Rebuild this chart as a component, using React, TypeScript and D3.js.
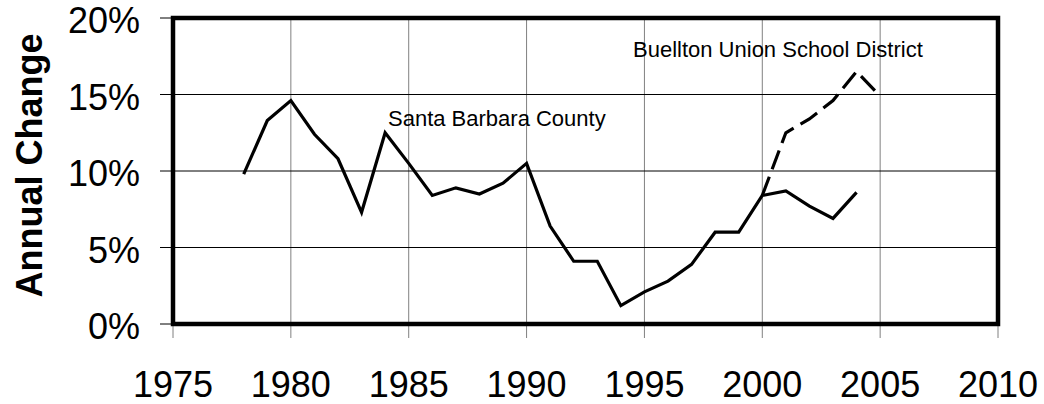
import { useEffect, useRef } from "react"
import * as d3 from "d3"

// Santa Barbara County annual change (%), 1978-2004
const sbYears = [
  1978, 1979, 1980, 1981, 1982, 1983, 1984, 1985, 1986, 1987, 1988, 1989, 1990, 1991, 1992, 1993, 1994,
  1995, 1996, 1997, 1998, 1999, 2000, 2001, 2002, 2003, 2004,
]
const sbValues = [
  9.8, 13.3, 14.6, 12.4, 10.8, 7.3, 12.5, 10.5, 8.4, 8.9, 8.5, 9.2, 10.5, 6.4, 4.1, 4.1, 1.2, 2.1, 2.8, 3.9,
  6.0, 6.0, 8.4, 8.7, 7.7, 6.9, 8.6,
]

// Buellton Union School District annual change (%), 2000-2005
const buYears = [2000, 2001, 2002, 2003, 2004, 2005]
const buValues = [8.4, 12.5, 13.4, 14.6, 16.5, 14.9]

const xTicks = [1975, 1980, 1985, 1990, 1995, 2000, 2005, 2010]
const yTicks = [0, 5, 10, 15, 20]

const W = 1044
const H = 404
const margin = { top: 18, right: 46, bottom: 80, left: 173 }
const FONT = "'Liberation Sans', Arial, sans-serif"

export default function App() {
  const svgRef = useRef<SVGSVGElement>(null)

  useEffect(() => {
    if (!svgRef.current) return
    const svg = d3.select(svgRef.current)
    svg.selectAll("*").remove()

    const x = d3.scaleLinear().domain([1975, 2010]).range([margin.left, W - margin.right])
    const y = d3.scaleLinear().domain([0, 20]).range([H - margin.bottom, margin.top])
    const x0 = x.range()[0]
    const x1 = x.range()[1]
    const y0 = y.range()[0]
    const y1 = y.range()[1]

    svg.append("rect").attr("width", W).attr("height", H).attr("fill", "#fff")

    // gridlines
    svg
      .append("g")
      .selectAll("line")
      .data(xTicks)
      .join("line")
      .attr("x1", (d) => x(d))
      .attr("x2", (d) => x(d))
      .attr("y1", y1)
      .attr("y2", y0 + 14)
      .attr("stroke", "#808080")
      .attr("stroke-width", 1)

    svg
      .append("g")
      .selectAll("line")
      .data(yTicks)
      .join("line")
      .attr("x1", x0 - 13)
      .attr("x2", x1)
      .attr("y1", (d) => y(d))
      .attr("y2", (d) => y(d))
      .attr("stroke", "#000")
      .attr("stroke-width", 1)

    // series
    const line = d3
      .line<[number, number]>()
      .x((d) => x(d[0]))
      .y((d) => y(d[1]))

    svg
      .append("path")
      .datum(sbYears.map((yr, i) => [yr, sbValues[i]] as [number, number]))
      .attr("d", line)
      .attr("fill", "none")
      .attr("stroke", "#000")
      .attr("stroke-width", 3.2)

    svg
      .append("path")
      .datum(buYears.map((yr, i) => [yr, buValues[i]] as [number, number]))
      .attr("d", line)
      .attr("fill", "none")
      .attr("stroke", "#000")
      .attr("stroke-width", 3.2)
      .attr("stroke-dasharray", "20,8")

    // frame
    svg
      .append("rect")
      .attr("x", x0)
      .attr("y", y1)
      .attr("width", x1 - x0)
      .attr("height", y0 - y1)
      .attr("fill", "none")
      .attr("stroke", "#000")
      .attr("stroke-width", 4.5)

    // tick labels
    svg
      .append("g")
      .selectAll("text")
      .data(yTicks)
      .join("text")
      .attr("x", x0 - 33)
      .attr("y", (d) => y(d) + 15)
      .attr("text-anchor", "end")
      .attr("font-family", FONT)
      .attr("font-size", 36)
      .text((d) => `${d}%`)

    svg
      .append("g")
      .selectAll("text")
      .data(xTicks)
      .join("text")
      .attr("x", (d) => x(d))
      .attr("y", 397)
      .attr("text-anchor", "middle")
      .attr("font-family", FONT)
      .attr("font-size", 36)
      .text((d) => d)

    // axis title
    svg
      .append("text")
      .attr("transform", `translate(42, 165.5) rotate(-90)`)
      .attr("text-anchor", "middle")
      .attr("font-family", FONT)
      .attr("font-size", 36)
      .attr("font-weight", "bold")
      .text("Annual Change")

    // series labels
    svg
      .append("text")
      .attr("x", 388)
      .attr("y", 126)
      .attr("font-family", FONT)
      .attr("font-size", 22)
      .text("Santa Barbara County")

    svg
      .append("text")
      .attr("x", 633)
      .attr("y", 57)
      .attr("font-family", FONT)
      .attr("font-size", 22)
      .text("Buellton Union School District")
  }, [])

  return (
    <svg
      ref={svgRef}
      width={W}
      height={H}
      style={{ position: "absolute", left: 0, top: 0, display: "block" }}
    />
  )
}
